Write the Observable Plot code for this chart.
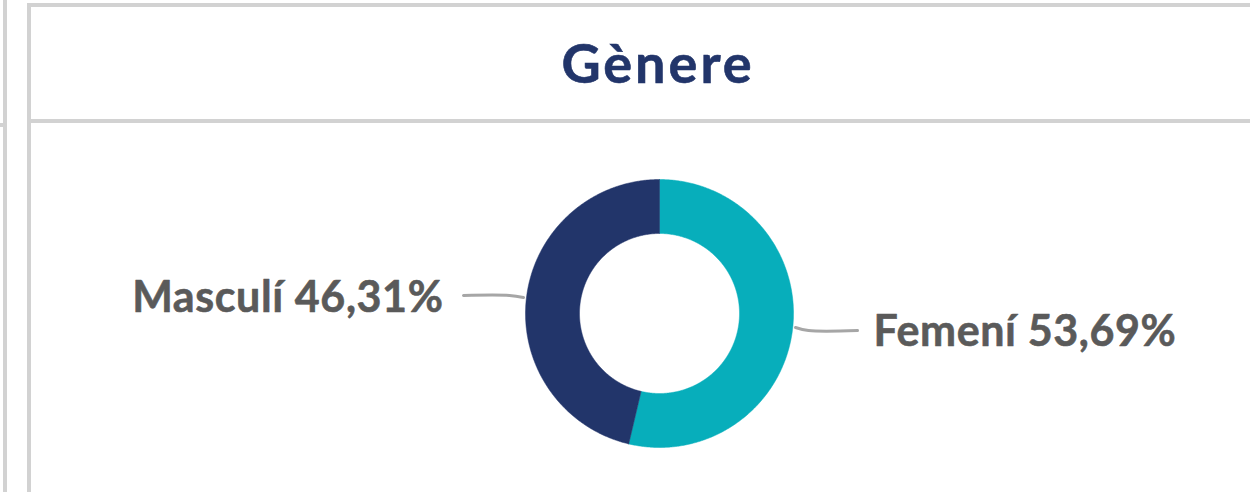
<!DOCTYPE html>
<html>
<head>
<meta charset="utf-8">
<script src="https://cdn.jsdelivr.net/npm/d3@7"></script>
<script src="https://cdn.jsdelivr.net/npm/@observablehq/plot@0.6"></script>
<style>
  html, body { margin: 0; padding: 0; background: #ffffff; width: 1250px; height: 492px; overflow: hidden; }
  .ln { position: absolute; background: #D2D2D2; }
  #title { position: absolute; left: 33px; width: 1250px; top: 33px; text-align: center;
           font-family: Lato, "Open Sans", sans-serif; font-weight: 700; font-size: 54px; line-height: 60px;
           letter-spacing: 3px; color: #22356A; -webkit-text-stroke: 0.6px #22356A; }
  #chart { position: absolute; left: 0; top: 123px; }
  #chart text { letter-spacing: 0.6px; }
</style>
</head>
<body>
<div class="ln" style="left:3px;top:0;width:4px;height:123px"></div>
<div class="ln" style="left:0;top:123px;width:7px;height:4px"></div>
<div class="ln" style="left:3px;top:127px;width:4px;height:365px"></div>
<div class="ln" style="left:27px;top:3px;width:1223px;height:4px"></div>
<div class="ln" style="left:27px;top:3px;width:4px;height:116px"></div>
<div class="ln" style="left:27px;top:119px;width:1223px;height:4px"></div>
<div class="ln" style="left:27px;top:123px;width:4px;height:369px"></div>
<div id="title">Gènere</div>
<div id="chart"></div>
<script>
// ---- data ----
const categories = ["Femení", "Masculí"];
const values = [53.69, 46.31];
const colors = ["#07AEBB", "#22356A"];

// ---- layout (styles/positions, not data) ----
const W = 1250, H = 369;
const cx = 659, cy = 190;            // donut centre in svg px
const outerR = 134, innerR = 80;
const labelLayout = {
  "Femení":  {x: 214, y: -19, anchor: "start", leader: [[136, -14], [149, -17], [198, -17]]},
  "Masculí": {x: -216, y: 15, anchor: "end",   leader: [[-196, 18], [-150, 18], [-136, 16]]}
};

const pie = d3.pie().sort(null).value(d => d.value);
const rows = categories.map((c, i) => ({cat: c, value: values[i], color: colors[i]}));
const arcs = pie(rows);

function ringPoints(a) {
  const pts = [];
  const n = Math.max(8, Math.ceil((a.endAngle - a.startAngle) / (Math.PI / 360)));
  for (let k = 0; k <= n; k++) {
    const t = a.startAngle + (a.endAngle - a.startAngle) * k / n;
    pts.push({x: outerR * Math.sin(t), y: outerR * Math.cos(t)});
  }
  for (let k = n; k >= 0; k--) {
    const t = a.startAngle + (a.endAngle - a.startAngle) * k / n;
    pts.push({x: innerR * Math.sin(t), y: innerR * Math.cos(t)});
  }
  pts.push(pts[0]);
  return pts;
}

const fmt = v => v.toFixed(2).replace(".", ",") + "%";

const marks = [];
arcs.forEach(a => {
  marks.push(Plot.line(ringPoints(a), {x: "x", y: "y", fill: a.data.color, stroke: a.data.color, strokeWidth: 0.5, curve: "linear"}));
});
rows.forEach(r => {
  const L = labelLayout[r.cat];
  marks.push(Plot.line(L.leader.map(p => ({x: p[0], y: p[1]})), {x: "x", y: "y", stroke: "#A6A6A6", strokeWidth: 3, curve: "catmull-rom"}));
  marks.push(Plot.text([r], {x: () => L.x, y: () => L.y, text: d => d.cat + " " + fmt(d.value),
    textAnchor: L.anchor, fill: "#5A5A5A", stroke: "#5A5A5A", strokeWidth: 0.6, fontSize: 43, fontWeight: 700, fontFamily: "Lato, 'Open Sans', sans-serif"}));
});

const chart = Plot.plot({
  width: W, height: H,
  margin: 0,
  x: {type: "linear", domain: [-cx, W - cx], range: [0, W], axis: null},
  y: {type: "linear", domain: [-(H - cy), cy], range: [H, 0], axis: null},
  style: {background: "transparent", overflow: "visible"},
  marks
});
document.getElementById("chart").appendChild(chart);
</script>
</body>
</html>
